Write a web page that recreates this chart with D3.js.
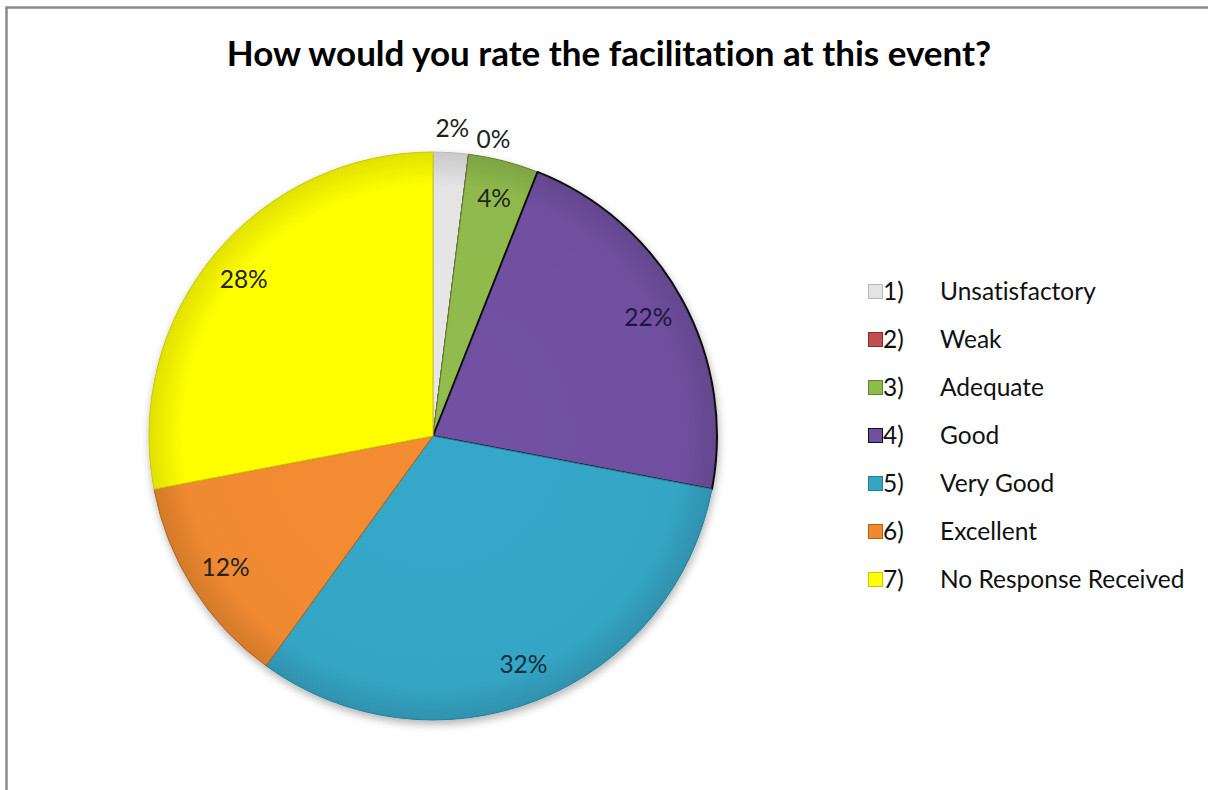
<!DOCTYPE html>
<html>
<head>
<meta charset="utf-8">
<script src="https://cdn.jsdelivr.net/npm/d3@7/dist/d3.min.js"></script>
<style>
  html, body { margin: 0; padding: 0; background: #fff; }
  svg { display: block; }
  text { font-variant-ligatures: none; font-feature-settings: "liga" 0, "clig" 0; }
</style>
</head>
<body>
<svg id="chart" width="1208" height="790"></svg>
<script>
// ---- data ----
const title = "How would you rate the facilitation at this event?";
const legendNumbers = ["1)", "2)", "3)", "4)", "5)", "6)", "7)"];
const categories = ["Unsatisfactory", "Weak", "Adequate", "Good", "Very Good", "Excellent", "No Response Received"];
const counts = [1, 0, 2, 11, 16, 6, 14];
const colors = ["#e4e4e4", "#c0504d", "#8fba4c", "#7050a0", "#35a5c5", "#f08a30", "#ffff00"];
const strokes = ["#b8b8b8", "#8a2a28", "#5f8430", "#111111", "#22809a", "#b0601a", "#c8c800"];

const W = 1208, H = 790;
const cx = 433, cy = 436, R = 284;
const FONT = "Lato, 'Open Sans', sans-serif";
const svg = d3.select("#chart");
const defs = svg.append("defs");

// shadow filter
const shadow = defs.append("filter").attr("id", "shadow").attr("x", "-10%").attr("y", "-10%").attr("width", "120%").attr("height", "125%");
shadow.append("feGaussianBlur").attr("in", "SourceAlpha").attr("stdDeviation", 4).attr("result", "b");
shadow.append("feOffset").attr("in", "b").attr("dx", 1).attr("dy", 4).attr("result", "o");
shadow.append("feComponentTransfer").attr("in", "o").attr("result", "s")
  .append("feFuncA").attr("type", "linear").attr("slope", 0.3);
const sm = shadow.append("feMerge");
sm.append("feMergeNode").attr("in", "s");
sm.append("feMergeNode").attr("in", "SourceGraphic");

// per-slice gradients (subtle 3D look)
colors.forEach((c, i) => {
  const gr = defs.append("radialGradient").attr("id", "grad" + i)
    .attr("gradientUnits", "userSpaceOnUse").attr("cx", 0).attr("cy", 0).attr("r", R);
  gr.append("stop").attr("offset", "0%").attr("stop-color", d3.color(c).brighter(0.05));
  gr.append("stop").attr("offset", "88%").attr("stop-color", c);
  gr.append("stop").attr("offset", "100%").attr("stop-color", d3.color(c).darker(0.35));
});

// frame
svg.append("rect").attr("x", 6.5).attr("y", 7.5).attr("width", W + 20).attr("height", H + 20)
  .attr("fill", "#fff").attr("stroke", "#8a8a8a").attr("stroke-width", 2.5);

// title
svg.append("text").attr("x", 609).attr("y", 66).attr("text-anchor", "middle")
  .attr("font-family", FONT).attr("font-weight", "bold").attr("font-size", 35)
  .attr("fill", "#000").text(title);

// pie
const total = d3.sum(counts);
const pie = d3.pie().value(d => d).sort(null);
const arcs = pie(counts);
const arc = d3.arc().innerRadius(0).outerRadius(R);
const labelArc = d3.arc().innerRadius(R * 0.865).outerRadius(R * 0.865);

const g = svg.append("g").attr("transform", `translate(${cx},${cy})`);
const shadowG = g.append("g").attr("filter", "url(#shadow)");
shadowG.selectAll("path.slice").data(arcs).enter().append("path")
  .attr("class", "slice")
  .attr("d", arc)
  .attr("fill", (d, i) => `url(#grad${i})`)
  .attr("stroke", (d, i) => strokes[i])
  .attr("stroke-width", (d, i) => i === 3 ? 2 : 1)
  .attr("stroke-linejoin", "round");

// labels
const fmt = d3.format(".0%");
let outsideIdx = 0;
arcs.forEach((d, i) => {
  const frac = d.value / total;
  const mid = (d.startAngle + d.endAngle) / 2;
  let x, y, anchor = "middle", dx = 0;
  if (frac < 0.03) {
    // thin slices get their labels outside the pie
    const r = R + (outsideIdx === 0 ? 24 : 15);
    const a = outsideIdx === 0 ? mid : d.endAngle;
    x = Math.sin(a) * r;
    y = -Math.cos(a) * r;
    anchor = outsideIdx === 0 ? "middle" : "start";
    dx = outsideIdx === 0 ? 0 : 6;
    outsideIdx++;
  } else {
    [x, y] = labelArc.centroid(d);
  }
  g.append("text").attr("x", x).attr("y", y).attr("dx", dx).attr("dy", "0.35em")
    .attr("text-anchor", anchor)
    .attr("font-family", FONT).attr("font-size", 24.5)
    .attr("fill", i === 3 ? "#1f1640" : (i === 4 ? "#0f3040" : "#222"))
    .text(fmt(frac));
});

// legend
const leg = svg.append("g").attr("transform", "translate(868,291)");
categories.forEach((c, i) => {
  const row = leg.append("g").attr("transform", `translate(0,${i * 48})`);
  row.append("rect").attr("x", 0.5).attr("y", -6.5).attr("width", 14).attr("height", 14)
    .attr("fill", colors[i])
    .attr("stroke", i === 3 ? "#111" : strokes[i]).attr("stroke-width", 1);
  row.append("text").attr("x", 15).attr("y", 0).attr("dy", "0.36em")
    .attr("font-family", FONT).attr("font-size", 24.5).attr("fill", "#111")
    .text(legendNumbers[i]);
  row.append("text").attr("x", 72).attr("y", 0).attr("dy", "0.36em")
    .attr("font-family", FONT).attr("font-size", 24.5).attr("fill", "#111")
    .text(c);
});
</script>
</body>
</html>
